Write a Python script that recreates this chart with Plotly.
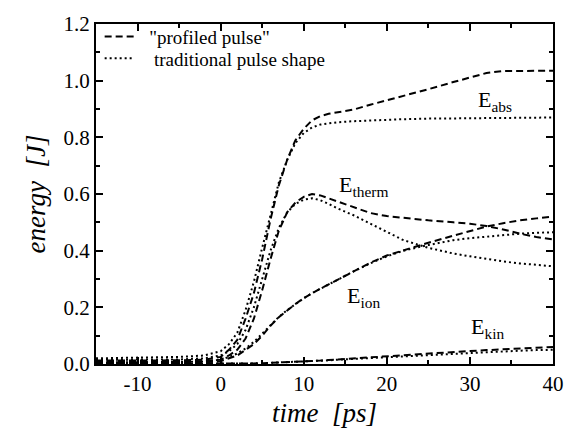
import plotly.graph_objects as go

t = [-15, -10, -5, -2, 0, 1, 2, 3, 4, 5, 6, 7, 8, 9, 10, 11, 12, 13, 14, 16, 18, 20, 22, 25, 28, 30, 32, 34, 36, 38, 40]

abs_prof = [0.012, 0.012, 0.013, 0.015, 0.025, 0.05, 0.085, 0.16, 0.25, 0.37, 0.51, 0.63, 0.72, 0.79, 0.83, 0.86, 0.875, 0.883, 0.888, 0.898, 0.915, 0.93, 0.945, 0.97, 0.995, 1.012, 1.027, 1.034, 1.035, 1.035, 1.035]
abs_trad = [0.02, 0.022, 0.025, 0.03, 0.045, 0.07, 0.11, 0.19, 0.29, 0.41, 0.53, 0.64, 0.72, 0.78, 0.815, 0.835, 0.845, 0.85, 0.853, 0.857, 0.86, 0.862, 0.864, 0.866, 0.867, 0.868, 0.868, 0.869, 0.869, 0.87, 0.87]

therm_prof = [0.008, 0.008, 0.009, 0.01, 0.015, 0.03, 0.05, 0.09, 0.16, 0.26, 0.37, 0.47, 0.535, 0.57, 0.59, 0.6, 0.595, 0.585, 0.575, 0.553, 0.533, 0.522, 0.515, 0.507, 0.5, 0.495, 0.487, 0.475, 0.46, 0.448, 0.44]
therm_trad = [0.015, 0.015, 0.016, 0.02, 0.03, 0.045, 0.07, 0.12, 0.2, 0.3, 0.4, 0.48, 0.535, 0.565, 0.58, 0.585, 0.578, 0.565, 0.55, 0.525, 0.495, 0.465, 0.437, 0.41, 0.39, 0.38, 0.37, 0.362, 0.355, 0.35, 0.345]

ion_prof = [0.004, 0.004, 0.005, 0.006, 0.01, 0.02, 0.03, 0.05, 0.07, 0.1, 0.135, 0.165, 0.19, 0.212, 0.232, 0.25, 0.266, 0.281, 0.296, 0.327, 0.357, 0.383, 0.402, 0.428, 0.453, 0.469, 0.485, 0.497, 0.507, 0.514, 0.52]
ion_trad = [0.006, 0.006, 0.007, 0.009, 0.015, 0.025, 0.037, 0.055, 0.078, 0.107, 0.138, 0.166, 0.19, 0.212, 0.232, 0.25, 0.266, 0.281, 0.296, 0.327, 0.355, 0.38, 0.4, 0.42, 0.437, 0.444, 0.45, 0.455, 0.46, 0.463, 0.465]

kin_prof = [0.0, 0.0, 0.0, 0.0, 0.0, 0.001, 0.001, 0.002, 0.002, 0.003, 0.004, 0.005, 0.006, 0.007, 0.008, 0.01, 0.012, 0.014, 0.016, 0.02, 0.024, 0.028, 0.031, 0.037, 0.042, 0.046, 0.049, 0.052, 0.055, 0.058, 0.06]
kin_trad = [0.0, 0.0, 0.0, 0.0, 0.0, 0.001, 0.001, 0.002, 0.002, 0.003, 0.004, 0.005, 0.006, 0.007, 0.008, 0.01, 0.012, 0.013, 0.015, 0.018, 0.021, 0.025, 0.028, 0.033, 0.037, 0.04, 0.043, 0.045, 0.047, 0.049, 0.05]

x_tick_vals = [-10, 0, 10, 20, 30, 40]
x_tick_text = ["-10", "0", "10", "20", "30", "40"]

legend_names = ['\u00a0\u00a0"profiled pulse"', '\u00a0\u00a0\u00a0traditional pulse shape']
labels = [("E", "abs", 30.7, 0.93), ("E", "therm", 14.0, 0.63), ("E", "ion", 15.0, 0.235), ("E", "kin", 29.85, 0.128)]

FONT = "Liberation Serif"
DASH = "7px,4px"
DOT = "2px,3px"

fig = go.Figure()
prof_series = [abs_prof, therm_prof, ion_prof, kin_prof]
trad_series = [abs_trad, therm_trad, ion_trad, kin_trad]
for i, s in enumerate(prof_series):
    fig.add_trace(go.Scatter(x=t, y=s, mode="lines", line=dict(color="black", width=2, dash=DASH),
                             name=legend_names[0], showlegend=(i == 0), legend="legend"))
for i, s in enumerate(trad_series):
    fig.add_trace(go.Scatter(x=t, y=s, mode="lines", line=dict(color="black", width=2, dash=DOT),
                             name=legend_names[1], showlegend=(i == 0), legend="legend2"))

for base, sub, x, y in labels:
    fig.add_annotation(x=x, y=y, xref="x", yref="y", text=f"{base}<sub>{sub}</sub>", showarrow=False,
                       xanchor="left", yanchor="middle", font=dict(family=FONT, size=22, color="black"))

axis_common = dict(showline=True, linecolor="black", linewidth=2, mirror="ticks", ticks="inside",
                   tickcolor="black", tickwidth=1.5, ticklen=7, showgrid=False, zeroline=False,
                   tickfont=dict(family=FONT, size=21, color="black"))

fig.update_xaxes(range=[-15, 40], tickvals=x_tick_vals, ticktext=x_tick_text,
                 minor=dict(dtick=5, tick0=0, ticks="inside", ticklen=4, tickcolor="black", tickwidth=1.5),
                 title=dict(text="time  [ps]", font=dict(family=FONT, size=27, color="black", style="italic"), standoff=8),
                 **axis_common)
fig.update_yaxes(range=[0, 1.2], dtick=0.2, tick0=0, tickformat=".1f",
                 minor=dict(dtick=0.1, ticks="inside", ticklen=4, tickcolor="black", tickwidth=1.5),
                 title=dict(text="energy  [J]", font=dict(family=FONT, size=27, color="black", style="italic"), standoff=10),
                 **axis_common)

leg_common = dict(xanchor="left", yanchor="middle", bgcolor="rgba(0,0,0,0)",
                  font=dict(family=FONT, size=19, color="black"), itemwidth=30, borderwidth=0)
fig.update_layout(
    width=576, height=435,
    margin=dict(l=96, r=14, t=22, b=65),
    plot_bgcolor="white", paper_bgcolor="white",
    font=dict(family=FONT, color="black"),
    legend=dict(x=0.008, y=0.963, **leg_common),
    legend2=dict(x=0.008, y=0.899, **leg_common),
    showlegend=True,
)

fig.write_html("out.html")
